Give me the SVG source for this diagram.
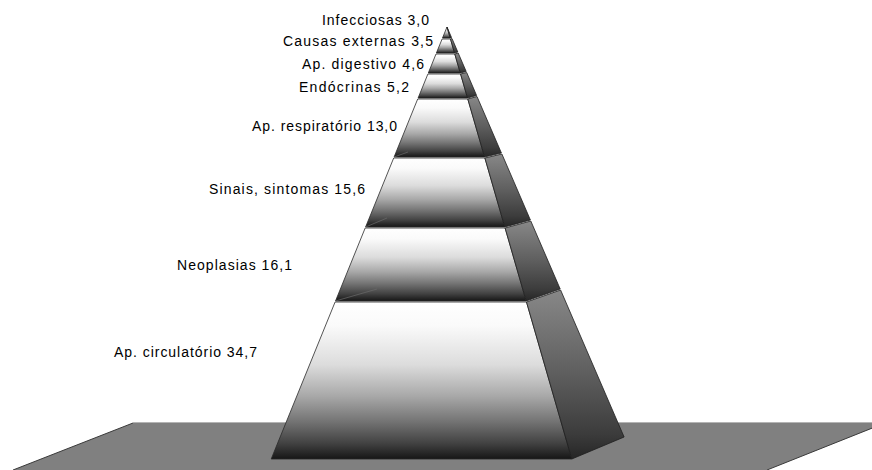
<svg xmlns="http://www.w3.org/2000/svg" width="872" height="470" viewBox="0 0 872 470">
  <defs>
    <linearGradient id="gFront" x1="0" y1="0" x2="0" y2="1">
      <stop offset="0" stop-color="#ffffff"/>
      <stop offset="0.15" stop-color="#fafafa"/>
      <stop offset="0.4" stop-color="#dcdcdc"/>
      <stop offset="0.6" stop-color="#a8a8a8"/>
      <stop offset="0.76" stop-color="#747474"/>
      <stop offset="0.9" stop-color="#424242"/>
      <stop offset="1" stop-color="#161616"/>
    </linearGradient>
    <linearGradient id="gSide" x1="0" y1="0" x2="0" y2="1">
      <stop offset="0" stop-color="#888888"/>
      <stop offset="0.5" stop-color="#5e5e5e"/>
      <stop offset="0.85" stop-color="#3c3c3c"/>
      <stop offset="1" stop-color="#262626"/>
    </linearGradient>
    <style>
      .front { fill: url(#gFront); stroke: #2a2a2a; stroke-width: 0.8; stroke-linejoin: round; }
      .side { fill: url(#gSide); stroke: #1e1e1e; stroke-width: 0.8; stroke-linejoin: round; }
      .diag { stroke: #6a6a6a; stroke-width: 0.7; fill: none; }
      .lbl { font-family: "Liberation Sans", Arial, sans-serif; font-size: 14px; fill: #000; text-anchor: end; }
      .floor { fill: #808080; }
      .floorEdge { stroke: #3a3a3a; stroke-width: 1; fill: none; }
      .floorTop { stroke: #b4b4b4; stroke-width: 1; fill: none; }
    </style>
  </defs>

  <g id="floor">
    <polygon class="floor" points="133,423 885,423 767,470 13,470"/>
    <line class="floorTop" x1="133" y1="422.5" x2="872" y2="422.5"/>
    <line class="floorEdge" x1="133" y1="423" x2="13" y2="470"/>
    <line class="floorEdge" x1="885" y1="423" x2="767" y2="470"/>
  </g>

  <g id="connectors"></g>

  <g id="band-circulatorio">
    <polygon class="front" points="335.1,302 526.5,302 571.8,459 271.2,459"/>
    <polygon class="side" points="526.5,302 560.6,290 624.1,437 571.8,459"/>
    <text class="lbl" x="257" y="357" textLength="143" lengthAdjust="spacing">Ap. circulatório 34,7</text>
  </g>

  <g id="band-neoplasias">
    <polygon class="front" points="365.2,228 505.1,228 526.2,301 335.5,301"/>
    <polygon class="side" points="505.1,228 530.8,221 560.2,289 526.2,301"/>
    <line class="diag" x1="335.5" y1="301" x2="377" y2="289"/>
    <text class="lbl" x="292" y="270" textLength="115" lengthAdjust="spacing">Neoplasias 16,1</text>
  </g>

  <g id="band-sinais">
    <polygon class="front" points="393.7,158 484.9,158 504.8,227 365.6,227"/>
    <polygon class="side" points="484.9,158 501.9,154 530.4,220 504.8,227"/>
    <line class="diag" x1="365.6" y1="227" x2="387" y2="218"/>
    <text class="lbl" x="365" y="194" textLength="156" lengthAdjust="spacing">Sinais, sintomas 15,6</text>
  </g>

  <g id="band-respiratorio">
    <polygon class="front" points="417.7,99 467.8,99 484.6,157 394.1,157"/>
    <polygon class="side" points="467.8,99 477.0,96.5 501.4,153 484.6,157"/>
    <line class="diag" x1="394.1" y1="157" x2="408" y2="152"/>
    <text class="lbl" x="397" y="131" textLength="145" lengthAdjust="spacing">Ap. respiratório 13,0</text>
  </g>

  <g id="band-endocrinas">
    <polygon class="front" points="427.9,74 460.6,74 467.5,98 418.1,98"/>
    <polygon class="side" points="460.6,74 466.7,72.5 476.6,95.5 467.5,98"/>
    <text class="lbl" x="409" y="92" textLength="110" lengthAdjust="spacing">Endócrinas 5,2</text>
  </g>

  <g id="band-digestivo">
    <polygon class="front" points="436.0,54 454.8,54 460.3,73 428.3,73"/>
    <polygon class="side" points="454.8,54 458.2,53 466.2,71.5 460.3,73"/>
    <text class="lbl" x="424" y="69" textLength="122" lengthAdjust="spacing">Ap. digestivo 4,6</text>
  </g>

  <g id="band-causas">
    <polygon class="front" points="442.1,39 450.5,39 454.5,53 436.4,53"/>
    <polygon class="side" points="450.5,39 452.0,38.5 457.8,52 454.5,53"/>
    <text class="lbl" x="433" y="46" textLength="150" lengthAdjust="spacing">Causas externas 3,5</text>
  </g>

  <g id="band-infecciosas">
    <polygon class="front" points="447,27 450.2,38 442.5,38"/>
    <polygon class="side" points="447,27 451.5,37.5 450.2,38"/>
    <text class="lbl" x="429" y="25" textLength="107" lengthAdjust="spacing">Infecciosas 3,0</text>
  </g>
</svg>
